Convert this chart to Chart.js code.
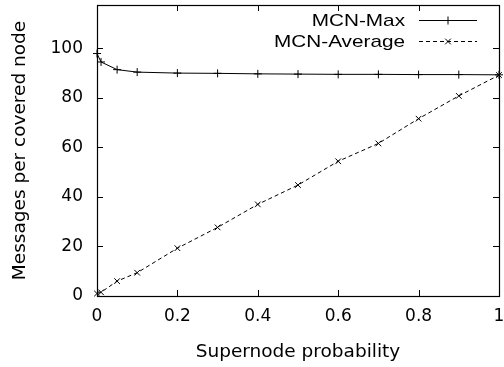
<!DOCTYPE html>
<html>
<head>
<meta charset="utf-8">
<script src="https://cdn.jsdelivr.net/npm/chart.js@4/dist/chart.umd.min.js"></script>
<style>
  html, body { margin: 0; padding: 0; background: #fff; }
  canvas { display: block; }
</style>
</head>
<body>
<canvas id="msgChart" width="504" height="367"></canvas>
<script>
// supernode probability on x, messages per covered node on y
const probs = [0, 0.01, 0.05, 0.1, 0.2, 0.3, 0.4, 0.5, 0.6, 0.7, 0.8, 0.9, 1.0];
const mcnMax = [97.9, 94.5, 91.4, 90.4, 90.0, 89.9, 89.7, 89.6, 89.5, 89.5, 89.4, 89.4, 89.3];
const mcnAvg = [1.0, 1.5, 6.0, 9.4, 19.3, 27.7, 37.0, 44.8, 54.4, 61.6, 71.6, 80.8, 89.2];
const xTicks = [0, 0.2, 0.4, 0.6, 0.8, 1];
const yTicks = [0, 20, 40, 60, 80, 100];

const FONT = "'DejaVu Sans', sans-serif";
const KEY_FONT = "17px 'Liberation Sans', Arial, sans-serif";

const toPts = ys => probs.map((x, i) => ({ x: x, y: ys[i] }));

// gnuplot-like frame: ticks pointing inwards on every side
const innerTicks = {
  id: 'innerTicks',
  afterDatasetsDraw(chart) {
    const c = chart.ctx, a = chart.chartArea;
    const xs = chart.scales.x, ys = chart.scales.y;
    const len = 6;
    c.save();
    c.strokeStyle = '#000';
    c.lineWidth = 1;
    c.beginPath();
    xTicks.forEach(v => {
      const px = Math.round(xs.getPixelForValue(v)) + 0.5;
      c.moveTo(px, a.bottom); c.lineTo(px, a.bottom - len);
      c.moveTo(px, a.top); c.lineTo(px, a.top + len);
    });
    yTicks.forEach(v => {
      const py = Math.round(ys.getPixelForValue(v)) + 0.5;
      c.moveTo(a.left, py); c.lineTo(a.left + len, py);
      c.moveTo(a.right, py); c.lineTo(a.right - len, py);
    });
    c.stroke();
    c.lineWidth = 1.2;
    c.strokeRect(a.left + 0.5, a.top + 0.5, a.right - a.left, a.bottom - a.top);
    c.restore();
  }
};

// key in the top-right corner: label right aligned (wide sans), sample line after it
const keyBox = {
  id: 'keyBox',
  afterDraw(chart) {
    const c = chart.ctx;
    chart.data.datasets.forEach((ds, i) => {
      const y = 20 + i * 21;
      c.save();
      c.font = KEY_FONT;
      c.textAlign = 'right';
      c.textBaseline = 'middle';
      c.fillStyle = '#000';
      c.translate(405, y + 1);
      c.scale(1.22, 1);
      c.fillText(ds.label, 0, 0);
      c.restore();

      c.save();
      c.strokeStyle = ds.borderColor;
      c.lineWidth = ds.borderWidth;
      c.setLineDash(ds.borderDash || []);
      c.beginPath();
      c.moveTo(419, y + 0.5); c.lineTo(477, y + 0.5);
      c.stroke();
      c.setLineDash([]);
      Chart.helpers.drawPoint(c, {
        pointStyle: ds.pointStyle, radius: ds.pointRadius, rotation: 0, borderWidth: 1
      }, 448, y + 0.5);
      c.restore();
    });
  }
};

new Chart(document.getElementById('msgChart'), {
  type: 'line',
  data: {
    datasets: [
      {
        label: 'MCN-Max',
        data: toPts(mcnMax),
        borderColor: '#000',
        backgroundColor: '#000',
        borderWidth: 1,
        pointStyle: 'cross',
        pointRadius: 4,
        pointBorderWidth: 1,
        tension: 0,
        clip: false
      },
      {
        label: 'MCN-Average',
        data: toPts(mcnAvg),
        borderColor: '#000',
        backgroundColor: '#000',
        borderWidth: 1,
        borderDash: [4, 3],
        pointStyle: 'crossRot',
        pointRadius: 4,
        pointBorderWidth: 1,
        tension: 0,
        clip: false
      }
    ]
  },
  options: {
    responsive: false,
    animation: false,
    layout: { padding: { top: 5, right: 1, left: 0, bottom: 0 } },
    plugins: { legend: { display: false }, tooltip: { enabled: false } },
    scales: {
      x: {
        type: 'linear',
        min: 0, max: 1,
        afterBuildTicks: s => { s.ticks = xTicks.map(v => ({ value: v })); },
        afterFit: s => { s.height = 71; s.paddingLeft = 0; s.paddingRight = 0; },
        grid: { display: false, drawTicks: false },
        border: { display: false },
        ticks: {
          color: '#000', padding: 10, font: { family: FONT, size: 17 },
          callback: v => String(v)
        },
        title: {
          display: true, text: 'Supernode probability', color: '#000',
          font: { family: FONT, size: 18.5 }, padding: { top: 5, bottom: 4 }
        }
      },
      y: {
        min: 0, max: 117.5,
        afterBuildTicks: s => { s.ticks = yTicks.map(v => ({ value: v })); },
        afterFit: s => { s.width = 97; s.paddingTop = 0; s.paddingBottom = 0; },
        grid: { display: false, drawTicks: false },
        border: { display: false },
        ticks: {
          color: '#000', padding: 14, font: { family: FONT, size: 17 },
          callback: v => String(v)
        },
        title: {
          display: true, text: 'Messages per covered node', color: '#000',
          font: { family: FONT, size: 18.5 }, padding: { top: 9, bottom: 0 }
        }
      }
    }
  },
  plugins: [innerTicks, keyBox]
});
</script>
</body>
</html>
